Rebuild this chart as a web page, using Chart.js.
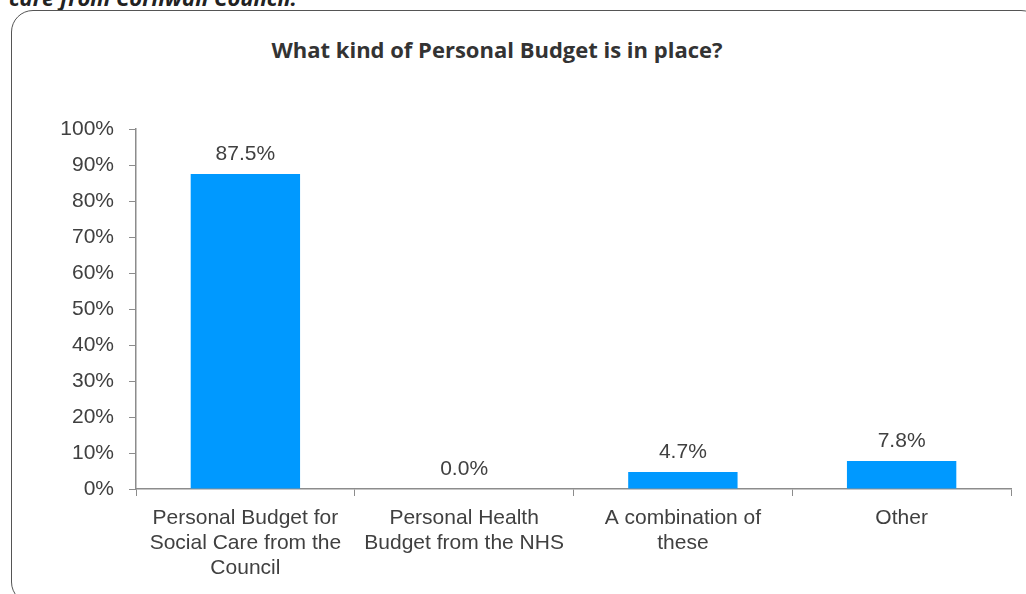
<!DOCTYPE html>
<html>
<head>
<meta charset="utf-8">
<script src="https://cdn.jsdelivr.net/npm/chart.js@4/dist/chart.umd.min.js"></script>
<style>
  html, body { margin: 0; padding: 0; background: #fff; overflow: hidden; }
  body { width: 1026px; height: 594px; position: relative; }
  .kop {
    position: absolute; left: 9px; top: -14px;
    font: italic bold 22px "Open Sans", sans-serif; color: #222; line-height: 22px;
    white-space: nowrap;
  }
  .kader {
    position: absolute; left: 11px; top: 10px; width: 1030px; height: 592px;
    border: 1px solid #555; border-radius: 22px;
  }
  .titel {
    position: absolute; left: 0; width: 994px; top: 35px; text-align: center;
    font: bold 22px "Open Sans", sans-serif; color: #333; line-height: 28px;
  }
  #grafiek { position: absolute; left: 0; top: 0; }
</style>
</head>
<body>
<div class="kop">care from Cornwall Council.</div>
<div class="kader"></div>
<div class="titel">What kind of Personal Budget is in place?</div>
<canvas id="grafiek" width="1026" height="594"></canvas>
<script>
const categorieen = [
  ['Personal Budget for', 'Social Care from the', 'Council'],
  ['Personal Health', 'Budget from the NHS'],
  ['A combination of', 'these'],
  'Other'
];
const percentages = [87.5, 0.0, 4.7, 7.8];
const asMax = 100;
const asStap = 10;

const tekstKleur = '#404040';
const lijnKleur = '#8c8c8c';
const lettertype = { family: '"Liberation Sans", Arial, sans-serif', size: 21 };

// waarde boven elke staaf schrijven
const waardeLabels = {
  id: 'waardeLabels',
  afterDatasetsDraw(chart) {
    const ctx = chart.ctx;
    const meta = chart.getDatasetMeta(0);
    ctx.save();
    ctx.font = '21px "Liberation Sans", Arial, sans-serif';
    ctx.fillStyle = tekstKleur;
    ctx.textAlign = 'center';
    ctx.textBaseline = 'middle';
    meta.data.forEach((staaf, i) => {
      ctx.fillText(percentages[i].toFixed(1) + '%', staaf.x, staaf.y - 20);
    });
    ctx.restore();
  }
};

const ctx = document.getElementById('grafiek').getContext('2d');
new Chart(ctx, {
  type: 'bar',
  data: {
    labels: categorieen,
    datasets: [{
      data: percentages,
      backgroundColor: '#0099ff',
      borderWidth: 0,
      barPercentage: 0.5,
      categoryPercentage: 1
    }]
  },
  options: {
    responsive: false,
    animation: false,
    layout: { padding: { top: 129, right: 15, bottom: 0, left: 0 } },
    plugins: {
      legend: { display: false },
      tooltip: { enabled: false }
    },
    scales: {
      x: {
        grid: { drawOnChartArea: false, drawTicks: true, tickLength: 7, color: lijnKleur, offset: true },
        border: { color: lijnKleur, width: 1.5 },
        ticks: { color: tekstKleur, font: { ...lettertype, lineHeight: 1.18 }, padding: 10, maxRotation: 0, autoSkip: false },
        afterFit(scale) { scale.height = 105; }
      },
      y: {
        min: 0,
        max: asMax,
        grid: { drawOnChartArea: false, drawTicks: true, tickLength: 7, color: lijnKleur },
        border: { color: lijnKleur, width: 1.5 },
        ticks: {
          stepSize: asStap,
          color: tekstKleur,
          font: lettertype,
          padding: 15,
          callback: v => v + '%'
        },
        afterFit(scale) { scale.width = 136; }
      }
    }
  },
  plugins: [waardeLabels]
});
</script>
</body>
</html>
